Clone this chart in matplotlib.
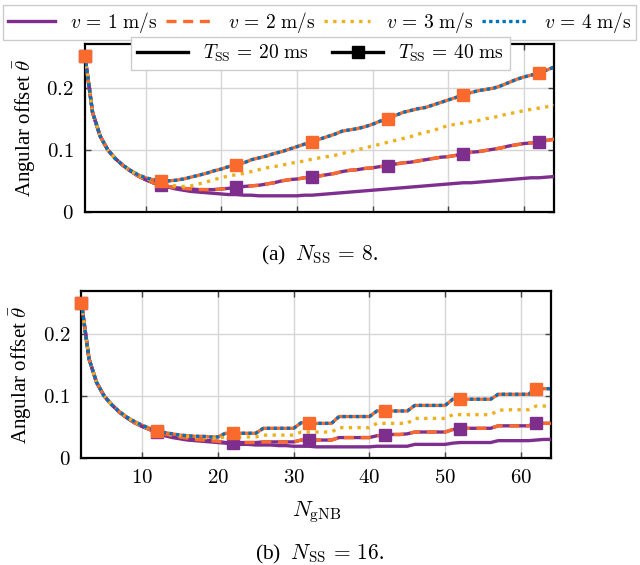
import numpy as np
import matplotlib
matplotlib.use('Agg')
import matplotlib.pyplot as plt
from matplotlib.lines import Line2D

plt.rcParams['font.family'] = 'serif'
plt.rcParams['font.serif'] = ['Liberation Serif', 'DejaVu Serif']
plt.rcParams['mathtext.fontset'] = 'cm'

# x axis: number of gNB beams
n_gnb = np.arange(2, 65)
marker_n = [2, 12, 22, 32, 42, 52, 62]

# (a) N_SS = 8, T_SS = 20 ms
top_v1 = [0.250, 0.160, 0.122, 0.100, 0.086, 0.075, 0.066, 0.058, 0.052, 0.047,
          0.043, 0.040, 0.037, 0.035, 0.033, 0.032, 0.031, 0.030, 0.029, 0.028,
          0.028, 0.027, 0.027, 0.026, 0.026, 0.026, 0.026, 0.026, 0.026, 0.027,
          0.027, 0.028, 0.029, 0.030, 0.031, 0.032, 0.033, 0.034, 0.035, 0.036,
          0.037, 0.038, 0.039, 0.040, 0.041, 0.042, 0.043, 0.044, 0.045, 0.046,
          0.047, 0.047, 0.048, 0.049, 0.050, 0.051, 0.052, 0.053, 0.054, 0.055,
          0.055, 0.056, 0.057]
top_v2 = [0.250, 0.160, 0.122, 0.100, 0.086, 0.075, 0.066, 0.058, 0.052, 0.047,
          0.044, 0.041, 0.039, 0.038, 0.037, 0.036, 0.036, 0.036, 0.037, 0.038,
          0.040, 0.041, 0.042, 0.043, 0.045, 0.047, 0.050, 0.052, 0.053, 0.055,
          0.056, 0.058, 0.060, 0.062, 0.065, 0.067, 0.068, 0.070, 0.071, 0.073,
          0.074, 0.077, 0.079, 0.080, 0.082, 0.084, 0.086, 0.088, 0.089, 0.091,
          0.094, 0.096, 0.097, 0.099, 0.101, 0.103, 0.106, 0.108, 0.110, 0.111,
          0.113, 0.115, 0.117]
top_v3 = [0.250, 0.160, 0.122, 0.100, 0.086, 0.075, 0.066, 0.059, 0.054, 0.050,
          0.047, 0.044, 0.042, 0.041, 0.042, 0.045, 0.048, 0.052, 0.055, 0.058,
          0.060, 0.062, 0.065, 0.068, 0.071, 0.073, 0.075, 0.078, 0.080, 0.082,
          0.085, 0.087, 0.089, 0.091, 0.094, 0.097, 0.100, 0.103, 0.106, 0.109,
          0.112, 0.115, 0.118, 0.121, 0.125, 0.128, 0.131, 0.135, 0.139, 0.141,
          0.143, 0.145, 0.147, 0.150, 0.152, 0.155, 0.158, 0.160, 0.163, 0.165,
          0.167, 0.169, 0.171]
top_v4 = [0.250, 0.160, 0.122, 0.100, 0.086, 0.075, 0.067, 0.060, 0.055, 0.052,
          0.050, 0.050, 0.051, 0.053, 0.056, 0.059, 0.062, 0.066, 0.069, 0.073,
          0.076, 0.079, 0.084, 0.087, 0.090, 0.094, 0.097, 0.101, 0.105, 0.109,
          0.112, 0.117, 0.121, 0.125, 0.130, 0.132, 0.134, 0.137, 0.141, 0.146,
          0.150, 0.155, 0.160, 0.163, 0.166, 0.168, 0.172, 0.176, 0.180, 0.184,
          0.188, 0.192, 0.195, 0.197, 0.199, 0.203, 0.208, 0.213, 0.217, 0.220,
          0.224, 0.228, 0.233]
# T_SS = 40 ms curves lie on top of the 20 ms ones with twice the speed
top_v1_40 = list(top_v2)
top_v2_40 = list(top_v4)

# (b) N_SS = 16, T_SS = 20 ms
bot_v1 = [0.250, 0.160, 0.122, 0.100, 0.086, 0.074, 0.065, 0.057, 0.051, 0.046,
          0.042, 0.036, 0.033, 0.031, 0.029, 0.028, 0.027, 0.026, 0.025, 0.024,
          0.023, 0.022, 0.022, 0.021, 0.021, 0.021, 0.020, 0.020, 0.019, 0.019,
          0.019, 0.018, 0.018, 0.018, 0.018, 0.018, 0.018, 0.018, 0.018, 0.019,
          0.019, 0.019, 0.019, 0.019, 0.022, 0.022, 0.022, 0.022, 0.022, 0.024,
          0.025, 0.025, 0.025, 0.025, 0.025, 0.028, 0.028, 0.028, 0.028, 0.028,
          0.029, 0.030, 0.030]
bot_v2 = [0.250, 0.160, 0.122, 0.100, 0.086, 0.074, 0.065, 0.057, 0.051, 0.046,
          0.042, 0.039, 0.036, 0.034, 0.032, 0.030, 0.029, 0.028, 0.027, 0.025,
          0.024, 0.025, 0.025, 0.025, 0.026, 0.026, 0.026, 0.026, 0.026, 0.029,
          0.029, 0.029, 0.029, 0.029, 0.033, 0.033, 0.033, 0.033, 0.033, 0.036,
          0.037, 0.038, 0.038, 0.039, 0.042, 0.042, 0.042, 0.042, 0.042, 0.046,
          0.047, 0.048, 0.048, 0.048, 0.048, 0.052, 0.052, 0.052, 0.052, 0.052,
          0.056, 0.056, 0.056]
bot_v3 = [0.250, 0.160, 0.122, 0.100, 0.086, 0.075, 0.066, 0.058, 0.052, 0.047,
          0.043, 0.040, 0.038, 0.036, 0.035, 0.034, 0.033, 0.032, 0.032, 0.034,
          0.034, 0.034, 0.034, 0.034, 0.037, 0.037, 0.037, 0.037, 0.037, 0.042,
          0.042, 0.042, 0.042, 0.042, 0.049, 0.049, 0.049, 0.049, 0.049, 0.056,
          0.056, 0.056, 0.056, 0.056, 0.064, 0.064, 0.064, 0.064, 0.064, 0.070,
          0.070, 0.070, 0.070, 0.070, 0.070, 0.077, 0.078, 0.078, 0.078, 0.078,
          0.084, 0.084, 0.084]
bot_v4 = [0.250, 0.160, 0.122, 0.100, 0.086, 0.075, 0.066, 0.059, 0.053, 0.048,
          0.044, 0.041, 0.039, 0.037, 0.036, 0.035, 0.035, 0.034, 0.034, 0.040,
          0.040, 0.040, 0.040, 0.040, 0.048, 0.048, 0.048, 0.048, 0.048, 0.057,
          0.057, 0.056, 0.056, 0.056, 0.067, 0.067, 0.067, 0.067, 0.067, 0.076,
          0.076, 0.076, 0.076, 0.076, 0.085, 0.085, 0.085, 0.085, 0.085, 0.095,
          0.095, 0.095, 0.095, 0.095, 0.095, 0.103, 0.103, 0.103, 0.103, 0.103,
          0.112, 0.112, 0.112]
bot_v1_40 = list(bot_v2)
bot_v2_40 = list(bot_v4)

speed_labels = [r'$v\,=\,1\ \mathrm{m/s}$', r'$v\,=\,2\ \mathrm{m/s}$',
                r'$v\,=\,3\ \mathrm{m/s}$', r'$v\,=\,4\ \mathrm{m/s}$']
period_labels = [r'$T_{\mathrm{SS}}\,=\,20\ \mathrm{ms}$', r'$T_{\mathrm{SS}}\,=\,40\ \mathrm{ms}$']
yticks = [0, 0.1, 0.2]
ytick_labels = ['$0$', '$0.1$', '$0.2$']
xticks = [10, 20, 30, 40, 50, 60]
xtick_labels = ['$10$', '$20$', '$30$', '$40$', '$50$', '$60$']

purple = '#7E2F8E'
orange = '#FA6A2C'
yellow = '#EDB120'
blue = '#0072BD'
styles = [
    dict(color=purple, ls='-'),
    dict(color=orange, ls=(0, (3, 2))),
    dict(color=yellow, ls=(0, (1, 1.6))),
    dict(color=blue, ls=(0, (1, 1))),
]
lw = 2.4


def draw(ax, v1, v2, v3, v4, v1_40, v2_40):
    idx = [n - 2 for n in marker_n]
    # T_SS = 40 ms lines underneath
    ax.plot(n_gnb, v1_40, color=purple, lw=lw, zorder=2)
    ax.plot(n_gnb, v2_40, color=orange, lw=lw, zorder=2)
    for vals, st in zip([v1, v2, v3, v4], styles):
        ax.plot(n_gnb, vals, lw=lw, zorder=3, **st)
    ax.plot(n_gnb[idx], np.array(v1_40)[idx], 's', color=purple, ms=9, zorder=4, clip_on=False)
    ax.plot(n_gnb[idx], np.array(v2_40)[idx], 's', color=orange, ms=9, zorder=5, clip_on=False)
    ax.set_xlim(2, 64)
    ax.set_ylim(0, 0.27)
    ax.set_yticks(yticks, labels=ytick_labels)
    ax.set_xticks(xticks, labels=xtick_labels)
    ax.grid(True, color='#d6d6d6', lw=1)
    ax.set_axisbelow(True)
    ax.tick_params(direction='in', top=True, right=True, length=4, width=1,
                   color='#444444', labelsize=15, pad=8)
    for sp in ax.spines.values():
        sp.set_linewidth(1.6)
    ax.set_ylabel(r'Angular offset $\bar{\theta}$', fontsize=15, labelpad=6)


fig = plt.figure(figsize=(6.4, 5.65), dpi=100)
ax1 = fig.add_axes([0.1328, 0.6248, 0.733, 0.2973])
ax2 = fig.add_axes([0.1273, 0.1894, 0.734, 0.2956])

draw(ax1, top_v1, top_v2, top_v3, top_v4, top_v1_40, top_v2_40)
ax1.tick_params(labelbottom=False)
draw(ax2, bot_v1, bot_v2, bot_v3, bot_v4, bot_v1_40, bot_v2_40)
ax2.set_xlabel(r'$N_{\mathrm{gNB}}$', fontsize=16, labelpad=8)

fig.text(0.5, 1 - 255 / 565, r'(a)  $N_{\mathrm{SS}}\,=\,8$.', ha='center', va='center', fontsize=15.5)
fig.text(0.5, 1 - 554 / 565, r'(b)  $N_{\mathrm{SS}}\,=\,16$.', ha='center', va='center', fontsize=15.5)

h1 = [Line2D([], [], lw=lw, **st) for st in styles]
fig.legend(h1, speed_labels, loc='center', bbox_to_anchor=(0.0047, 0.929, 0.989, 0.062),
           mode='expand', ncol=4, fancybox=False, edgecolor='#cccccc', framealpha=1,
           handlelength=2.4, fontsize=14, borderaxespad=0, borderpad=0.25)
h2 = [Line2D([], [], color='black', lw=lw),
      Line2D([], [], color='black', lw=lw, marker='s', ms=8)]
fig.legend(h2, period_labels, loc='center', bbox_to_anchor=(0.501, 0.906), ncol=2,
           fancybox=False, edgecolor='#cccccc', framealpha=1, handlelength=2.6,
           fontsize=14, borderaxespad=0, borderpad=0.3, columnspacing=1.2)

fig.savefig('out.png', dpi=100)
